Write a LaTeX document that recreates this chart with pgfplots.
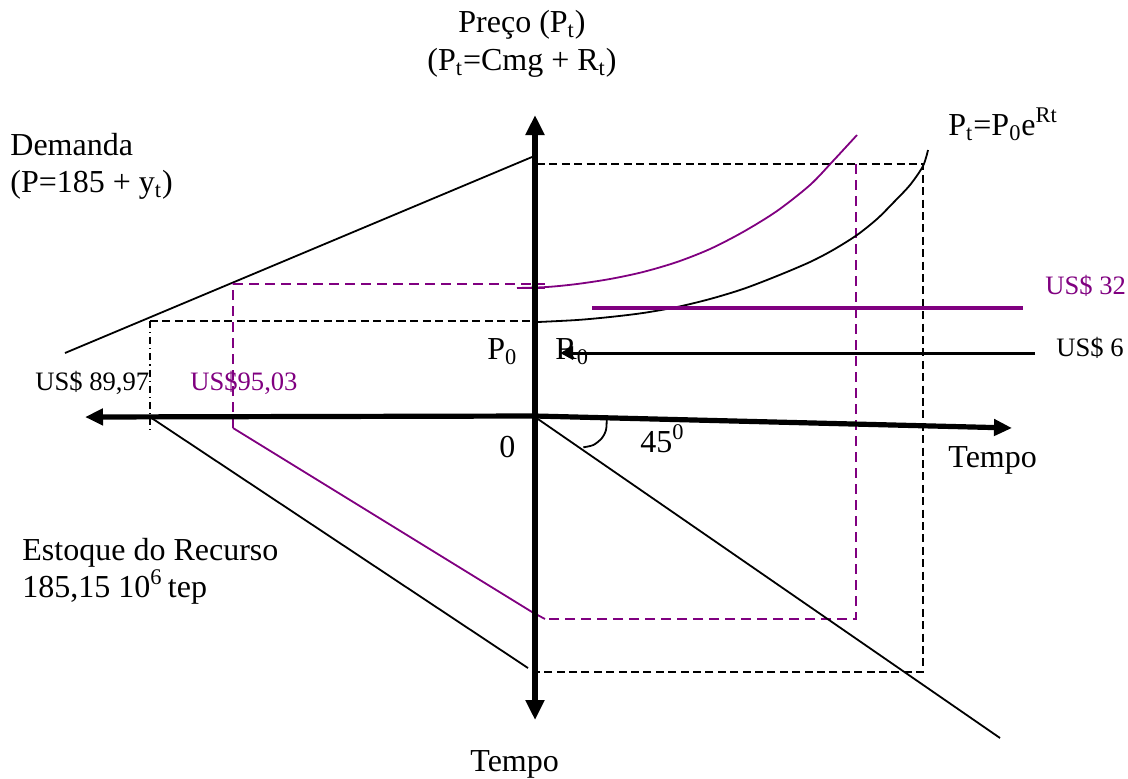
\documentclass[border=0pt]{standalone}
\usepackage{fontspec}
\setmainfont{Liberation Serif}
\usepackage{pgfplots}
\pgfplotsset{compat=1.18}
\usetikzlibrary{arrows.meta}
\definecolor{purp}{RGB}{128,0,128}
\newcommand\fa{\fontsize{16}{19}\selectfont}
\newcommand\fb{\fontsize{13.3}{15}\selectfont}
\begin{document}
\begin{tikzpicture}
\begin{axis}[scale only axis, width=564pt, height=389pt,
  xmin=0, xmax=1128, ymin=0, ymax=778, y dir=reverse,
  hide axis, clip=false]
% demand line
\addplot[black, line width=0.9pt] coordinates {(65,353) (532,157)};
% black dashed rectangle (right)
\addplot[black, line width=0.9pt, dash pattern=on 4pt off 2.2pt] coordinates {(537,164) (923,164) (923,672) (535,672)};
% purple dashed (right)
\addplot[purp, line width=0.9pt, dash pattern=on 5pt off 3pt] coordinates {(856,164) (856,619) (545,619)};
% black dashed left
\addplot[black, line width=0.9pt, dash pattern=on 4pt off 2.2pt] coordinates {(150,321) (535,321)};
\addplot[black, line width=0.8pt, dash pattern=on 3.5pt off 2pt on 0.6pt off 2pt] coordinates {(150,321) (150,434)};
% purple dashed left
\addplot[purp, line width=0.9pt, dash pattern=on 5pt off 3pt] coordinates {(233,428) (233,284) (545,284)};
\addplot[purp, line width=0.9pt] coordinates {(517,288) (545,288)};
% lower diagonals
\addplot[black, line width=0.9pt] coordinates {(150,417) (528,668)};
\addplot[purp, line width=0.9pt] coordinates {(233,428) (532,612) (545,619)};
\addplot[black, line width=0.9pt] coordinates {(535,417) (1000,738)};
% curves
\addplot[black, line width=0.9pt, smooth] coordinates {(538,322) (577,320) (610,317) (643,313) (677,307) (710,299) (743,289) (777,276) (810,262) (833,250) (857,235) (877,219) (893,203) (910,185) (923,166) (928,150)};
\addplot[purp, line width=0.9pt, smooth] coordinates {(517,288) (547,287) (577,284) (610,279) (643,272) (677,262) (710,249) (743,232) (777,211) (810,185) (833,161) (857,135)};
% horizontal levels
\addplot[purp, line width=1.6pt] coordinates {(592,308) (1023,308)};
\addplot[black, line width=1.5pt, -{Triangle[length=6.5pt,width=6.5pt]}] coordinates {(1035,353) (560,353)};
% angle arc
\addplot[black, line width=0.9pt, smooth] coordinates {(606.7,419.3) (606,430) (601.7,438.3) (593.3,445) (583.3,447.3)};
% main axes
\addplot[black, line width=2.6pt, {Triangle[length=10pt,width=9pt]}-{Triangle[length=10pt,width=9pt]}] coordinates {(535,115) (535,720)};
\addplot[black, line width=2.6pt, {Triangle[length=9pt,width=8pt]}-{Triangle[length=9pt,width=8pt]}] coordinates {(85,417) (535,416) (1012,428)};
% texts
\node[anchor=base, font=\fa] at (522,32) {Preço (P\textsubscript{t})};
\node[anchor=base, font=\fa] at (522,70) {(P\textsubscript{t}=Cmg + R\textsubscript{t})};
\node[anchor=base west, font=\fa, inner sep=0pt] at (10,155) {Demanda};
\node[anchor=base west, font=\fa, inner sep=0pt] at (10,192) {(P=185 + y\textsubscript{t})};
\node[anchor=base west, font=\fa, inner sep=0pt] at (948,135) {P\textsubscript{t}=P\textsubscript{0}e\textsuperscript{Rt}};
\node[anchor=base west, font=\fb, inner sep=0pt, text=purp] at (1045,294) {US\$ 32};
\node[anchor=base west, font=\fb, inner sep=0pt] at (1056,356) {US\$ 6};
\node[anchor=base west, font=\fa, inner sep=0pt] at (948,467) {Tempo};
\node[anchor=base west, font=\fa, inner sep=0pt] at (487,359) {P\textsubscript{0}};
\node[anchor=base west, font=\fa, inner sep=0pt] at (555,359) {R\textsubscript{0}};
\node[anchor=base west, font=\fa, inner sep=0pt] at (499,457) {0};
\node[anchor=base west, font=\fa, inner sep=0pt] at (640,452) {45\textsuperscript{0}};
\node[anchor=base west, font=\fb, inner sep=0pt] at (35,390) {US\$ 89,97};
\node[anchor=base west, font=\fb, inner sep=0pt, text=purp] at (190,390) {US\$95,03};
\node[anchor=base west, font=\fa, inner sep=0pt] at (22,560) {Estoque do Recurso};
\node[anchor=base west, font=\fa, inner sep=0pt] at (22,597) {185,15 10\textsuperscript{6}\,tep};
\node[anchor=base west, font=\fa, inner sep=0pt] at (470,771) {Tempo};
\end{axis}
\pgfresetboundingbox
\path[use as bounding box] (current axis.south west) rectangle (current axis.north east);
\end{tikzpicture}
\end{document}
